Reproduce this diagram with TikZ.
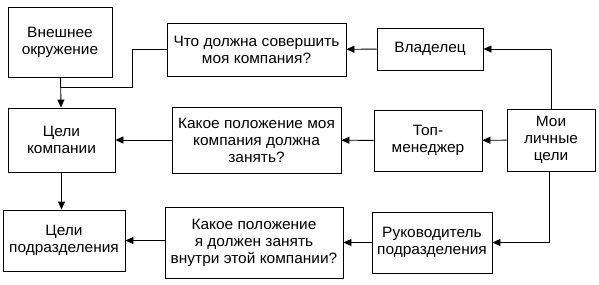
\documentclass[tikz,border=0pt]{standalone}
\usepackage{fontspec}
\setmainfont{Liberation Sans}[FakeStretch=1.03]
\usetikzlibrary{arrows.meta}

\tikzset{
	box/.style={draw, line width=0.9pt, align=center, inner sep=1pt, font=\fontsize{15}{17}\selectfont},
	link/.style={line width=0.9pt, -{Triangle[length=8pt, width=7pt]}}
}

\begin{document}
\begin{tikzpicture}[x=1pt, y=-1pt]
		\useasboundingbox (0,0) rectangle (599,284);
		
		% TOP ROW
		\node[box, minimum width=104, minimum height=70] (env) at (60,42) {Внешнее\\окружение};
		\node[box, minimum width=179, minimum height=53] (what) at (256.5,49.5) {Что должна совершить\\моя компания?};
		\node[box, minimum width=106, minimum height=42] (owner) at (430,49) {Владелец};
		
		% MIDDLE ROW
		\node[box, minimum width=107, minimum height=64] (goals) at (61.5,140) {Цели\\компании};
		\node[box, minimum width=169, minimum height=66] (pos) at (256.5,140) {Какое положение моя\\компания должна\\занять?};
		\node[box, minimum width=108, minimum height=61] (top) at (428,140.5) {Топ-\\менеджер};
		\node[box, minimum width=88, minimum height=62] (mine) at (551,140) {Мои\\личные\\цели};
		
		% BOTTOM ROW
		\node[box, minimum width=122, minimum height=61] (dept) at (64,240.5) {Цели\\подразделения};
		\node[box, minimum width=178, minimum height=71] (place) at (254,242.5) {Какое положение\\я должен занять\\внутри этой компании?};
		\node[box, minimum width=120, minimum height=61] (head) at (432,242.5) {Руководитель\\подразделения};
		
		% Join of the question onto the left column
		\coordinate (bend) at (132,87);
		\coordinate (join) at (env.south |- bend);
		
		% Arrows
		\draw[link] (owner) -- (what);
		\draw[link] (mine.north) |- (owner.east);
		\draw[line width=0.9pt] (what.west) -| (bend) -- (join);
		\draw[link] (env) -- (goals);
		
		\draw[link] (mine) -- (top);
		\draw[link] (top) -- (pos);
		\draw[link] (pos) -- (goals);
		\draw[link] (goals.south) -- (goals.south |- dept.north);
		
		\draw[link] ([xshift=-2pt]mine.south) |- (head.east);
		\draw[link] (head) -- (place);
		\draw[link] (place.west |- dept.east) -- (dept.east);
	\end{tikzpicture}
\end{document}
